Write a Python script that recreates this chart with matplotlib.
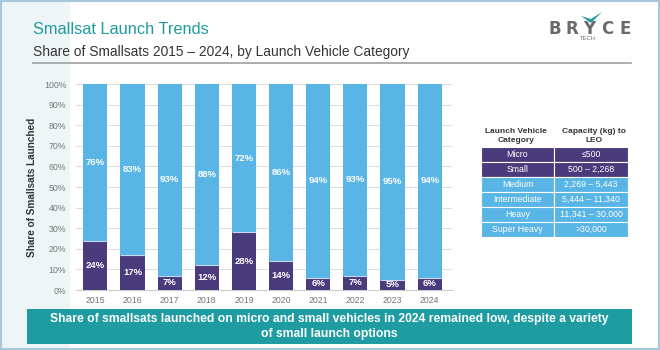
import matplotlib
matplotlib.use("Agg")
import matplotlib.pyplot as plt
from matplotlib.patches import Rectangle, Polygon
import numpy as np

plt.rcParams['font.family'] = ['Liberation Sans', 'DejaVu Sans']

years = ["2015", "2016", "2017", "2018", "2019", "2020", "2021", "2022", "2023", "2024"]
micro_small = [24, 17, 7, 12, 28, 14, 6, 7, 5, 6]
medium_plus = [76, 83, 93, 88, 72, 86, 94, 93, 95, 94]

table_categories = ["Micro", "Small", "Medium", "Intermediate", "Heavy", "Super Heavy"]
table_capacity = ["≤500", "500 – 2,268", "2,269 – 5,443", "5,444 – 11,340", "11,341 – 30,000", ">30,000"]
table_dark = [True, True, False, False, False, False]

DARK = "#4A3B7C"
LIGHT = "#58B5E5"
TEAL = "#1E9CA2"

W, H = 660, 350
fig = plt.figure(figsize=(6.6, 3.5), dpi=100)
fig.patch.set_facecolor("#FFFFFF")

def fx(px):
    return px / W

def fy(py):
    return 1 - py / H

# background decorations
fig.add_artist(Rectangle((0, 0), fx(70), 1, transform=fig.transFigure,
                         facecolor="#EEF5F7", edgecolor="none", zorder=0))
fig.add_artist(Rectangle((0.002, 0.003), 0.996, 0.994, transform=fig.transFigure,
                         facecolor="none", edgecolor="#A8C6DC", lw=1.5, zorder=10))

# title
fig.text(fx(33), fy(30), "Smallsat Launch Trends", color="#1E9A9E", fontsize=11.8,
         va="center", ha="left")
fig.text(fx(33), fy(52), "Share of Smallsats 2015 – 2024, by Launch Vehicle Category",
         color="#333333", fontsize=9.9, va="center", ha="left")
fig.add_artist(plt.Line2D([fx(33), fx(631)], [fy(63), fy(63)], transform=fig.transFigure,
                          color="#A0A0A0", lw=1.2))

# logo
for ch, cx in zip("BRYCE", [555, 572, 589, 607, 625]):
    fig.text(fx(cx), fy(28.5), ch, color="#6A6A6A", fontsize=12, ha="center",
             va="center", family="DejaVu Sans", fontweight="semibold")
fig.text(fx(588), fy(38.5), "TECH", color="#6E6E6E", fontsize=4.2, ha="center", va="center")
fig.add_artist(Polygon([[fx(581), fy(16)], [fx(591), fy(23)], [fx(602), fy(12)],
                        [fx(591), fy(19)]], closed=True, transform=fig.transFigure,
                       facecolor="#1E9CA2", edgecolor="none"))

# chart
ax = fig.add_axes([fx(76), fy(290), fx(452) - fx(76), (290 - 84) / H])
ax.set_facecolor("none")
x = np.arange(len(years))
ax.bar(x, micro_small, width=0.65, color=DARK, zorder=3)
ax.bar(x, medium_plus, bottom=micro_small, width=0.65, color=LIGHT, zorder=3,
       edgecolor="none")
ax.hlines(micro_small, x - 0.325, x + 0.325, color="#C9D8EE", lw=0.8, zorder=3.5)
for i in range(len(years)):
    ax.text(x[i], micro_small[i] / 2, f"{micro_small[i]}%", color="white", fontsize=6.8,
            fontweight="bold", ha="center", va="center", zorder=4)
    ax.text(x[i], micro_small[i] + medium_plus[i] / 2, f"{medium_plus[i]}%", color="white",
            fontsize=6.8, fontweight="bold", ha="center", va="center", zorder=4)
ax.set_xlim(-0.52, 9.6)
ax.set_ylim(0, 100)
ax.set_yticks(np.arange(0, 101, 10))
ax.set_yticklabels([f"{v}%" for v in range(0, 101, 10)])
ax.set_xticks(x)
ax.set_xticklabels(years)
ax.tick_params(axis="both", length=0, labelsize=6.3, colors="#777777")
ax.tick_params(axis="y", pad=7)
ax.tick_params(axis="x", pad=4)
ax.grid(axis="y", color="#DDDDDD", lw=0.7, zorder=0)
for s in ["top", "right", "left"]:
    ax.spines[s].set_visible(False)
ax.spines["bottom"].set_color("#CCCCCC")
ax.set_ylabel("Share of Smallsats Launched", fontsize=7.2, fontweight="bold", color="#333333",
              labelpad=5)

# table
c0l, c0r, c1r = 481, 554, 628
fig.text(fx(516), fy(136), "Launch Vehicle\nCategory", fontsize=6.0,
         fontweight="bold", color="#333333", ha="center", va="center", linespacing=1.3)
fig.text(fx(594), fy(136), "Capacity (kg) to\nLEO", fontsize=6.0,
         fontweight="bold", color="#333333", ha="center", va="center", linespacing=1.3)
top = 147
rh = 15.0
for i, (cat, cap, dk) in enumerate(zip(table_categories, table_capacity, table_dark)):
    y0 = top + i * rh
    col = DARK if dk else LIGHT
    for (l, r, t) in [(c0l, c0r, cat), (c0r, c1r, cap)]:
        fig.add_artist(Rectangle((fx(l), fy(y0 + rh)), fx(r - l), rh / H,
                                 transform=fig.transFigure, facecolor=col,
                                 edgecolor="white", lw=0.8))
        fig.text(fx((l + r) / 2), fy(y0 + rh / 2), t, color="white", fontsize=6.3,
                 ha="center", va="center")

# banner
fig.add_artist(Rectangle((fx(27), fy(344)), fx(632 - 27), (344 - 309) / H,
                         transform=fig.transFigure, facecolor=TEAL, edgecolor="none"))
fig.text(fx(329), fy(326.5),
         "Share of smallsats launched on micro and small vehicles in 2024 remained low, despite a variety\nof small launch options",
         color="white", fontsize=8.7, fontweight="bold", ha="center", va="center",
         linespacing=1.25)

fig.savefig("out.png", dpi=100, facecolor=fig.get_facecolor())
